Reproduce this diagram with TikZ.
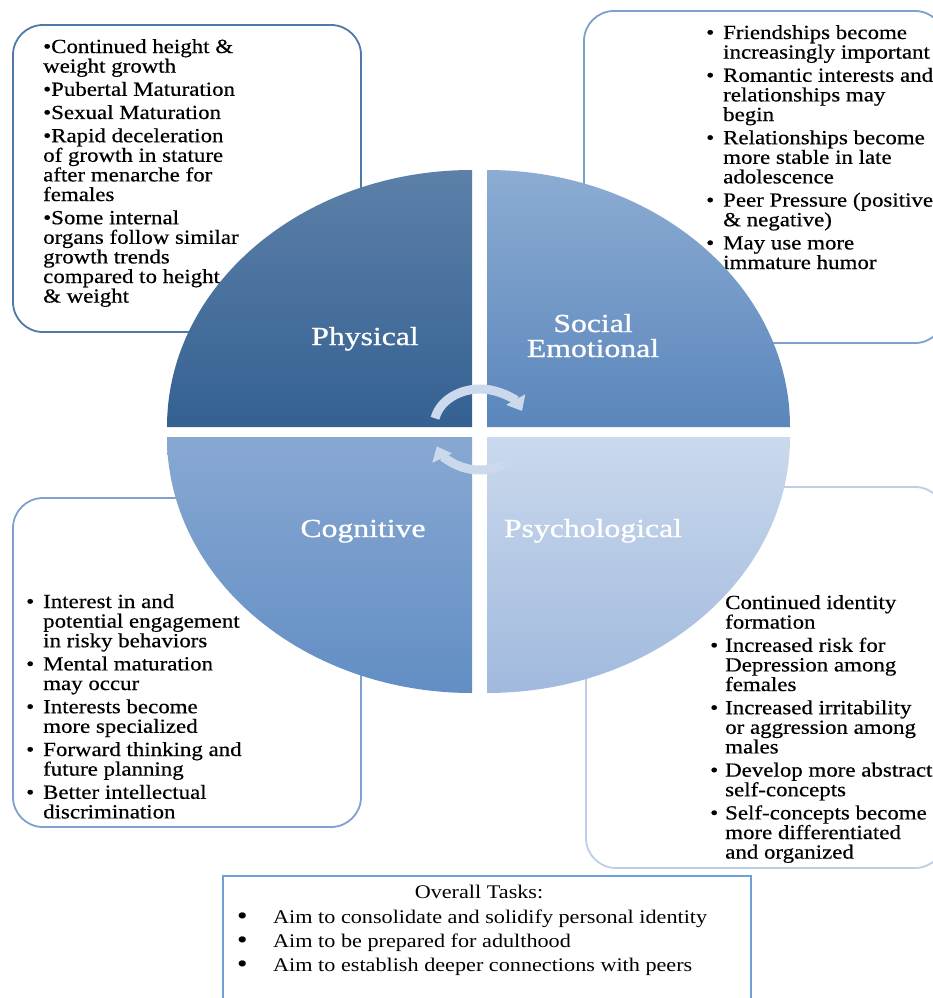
\documentclass[tikz,border=0pt]{standalone}
\usepackage{fontspec}
\setmainfont{Liberation Serif}[FakeStretch=1.145,FakeBold=0.5]
\newfontfamily\labelfont{Liberation Serif}[FakeStretch=1.22,FakeBold=0.9]
\newfontfamily\taskfont{Liberation Serif}[FakeStretch=1.15]
\usetikzlibrary{arrows.meta,fadings}
\definecolor{physTop}{RGB}{92,128,168}
\definecolor{physBot}{RGB}{52,97,146}
\definecolor{socTop}{RGB}{140,172,210}
\definecolor{socBot}{RGB}{90,134,188}
\definecolor{cogTop}{RGB}{136,168,210}
\definecolor{cogBot}{RGB}{98,142,196}
\definecolor{psyTop}{RGB}{202,217,237}
\definecolor{psyBot}{RGB}{160,185,221}
\definecolor{borderA}{RGB}{80,122,166}
\definecolor{borderB}{RGB}{125,160,205}
\definecolor{borderC}{RGB}{125,162,208}
\definecolor{borderD}{RGB}{190,205,232}
\definecolor{taskborder}{RGB}{110,160,214}
\definecolor{arrowcol}{RGB}{204,217,236}
\newlength\bulw
\newcommand\bul{\makebox[\bulw][l]{•}}
\newcommand\bigbul{\makebox[\bulw][l]{\hspace*{1pt}\raisebox{-1pt}{\fontsize{26}{24}\selectfont•}}}
\newcommand\ind{\hspace*{\bulw}}
\newcommand\gap{\\[3.6pt]}
\newcommand\bodyfont{\fontsize{20}{19.6}\selectfont\lineskiplimit=-100pt}
\tikzset{
  infobox/.style={rounded corners=30pt, line width=1.8pt, fill=white},
  bodytext/.style={inner sep=0pt, anchor=base west, text=black},
  quadlabel/.style={text=white, font=\labelfont\fontsize{26}{25}\selectfont, inner sep=0pt, anchor=base},
  cyclearrow/.style={draw=arrowcol, line width=9pt, line cap=butt},
  cyclehead/.style={-{Triangle[width=21pt,length=13pt]}}
}
\begin{document}
\begin{tikzpicture}[x=1pt,y=-1pt]
\useasboundingbox (0,0) rectangle (933,998);
\clip (0,0) rectangle (933,998);
\fill[white] (0,0) rectangle (933,998);

% text boxes
\draw[infobox, draw=borderA] (13,25) rectangle (361,332);
\draw[infobox, draw=borderB] (584,11) rectangle (945,343);
\draw[infobox, draw=borderC] (13,498) rectangle (361,827);
\draw[infobox, draw=borderD] (586,487) rectangle (945,868);

\node[bodytext] (physTxt) at (43,53) {\parbox[t]{500pt}{\bodyfont
•Continued height \&\\
weight growth\gap
•Pubertal Maturation\gap
•Sexual Maturation\gap
•Rapid deceleration\\
of growth in stature\\
after menarche for\\
females\gap
•Some internal\\
organs follow similar\\
growth trends\\
compared to height\\
\& weight}};

\node[bodytext] (socTxt) at (706,39) {\parbox[t]{500pt}{\bodyfont\setlength\bulw{17pt}%
\bul Friendships become\\
\ind increasingly important\gap
\bul Romantic interests and\\
\ind relationships may\\
\ind begin\gap
\bul Relationships become\\
\ind more stable in late\\
\ind adolescence\gap
\bul Peer Pressure (positive\\
\ind \& negative)\gap
\bul May use more\\
\ind immature humor}};

\node[bodytext] (cogTxt) at (26,608) {\parbox[t]{500pt}{\bodyfont\setlength\bulw{17pt}%
\bul Interest in and\\
\ind potential engagement\\
\ind in risky behaviors\gap
\bul Mental maturation\\
\ind may occur\gap
\bul Interests become\\
\ind more specialized\gap
\bul Forward thinking and\\
\ind future planning\gap
\bul Better intellectual\\
\ind discrimination}};

\node[bodytext] (psyTxt) at (710,609) {\parbox[t]{500pt}{\bodyfont\setlength\bulw{15pt}%
\ind Continued identity\\
\ind formation\gap
\bul Increased risk for\\
\ind Depression among\\
\ind females\gap
\bul Increased irritability\\
\ind or aggression among\\
\ind males\gap
\bul Develop more abstract\\
\ind self-concepts\gap
\bul Self-concepts become\\
\ind more differentiated\\
\ind and organized}};

% overall tasks box
\draw[draw=taskborder, line width=1.8pt, fill=white] (223,876) rectangle (751,1010);
\node[inner sep=0pt, anchor=base, font=\taskfont\fontsize{19.3}{24}\selectfont] (taskTitle) at (479,898) {Overall Tasks:};
\node[bodytext] (taskTxt) at (236,923) {\parbox[t]{600pt}{\taskfont\fontsize{19.3}{24.3}\selectfont\setlength\bulw{37pt}%
\bigbul Aim to consolidate and solidify personal identity\\
\bigbul Aim to be prepared for adulthood\\
\bigbul Aim to establish deeper connections with peers}};

% quadrants
\shade[top color=physTop, bottom color=physBot]
  (472,427) -- (167,427) arc[start angle=180, end angle=270, x radius=305, y radius=257] -- cycle;
\shade[top color=socTop, bottom color=socBot]
  (487,427) -- (487,170) arc[start angle=270, end angle=360, x radius=303, y radius=257] -- cycle;
\shade[top color=psyTop, bottom color=psyBot]
  (487,437) -- (790,437) arc[start angle=0, end angle=90, x radius=303, y radius=256] -- cycle;
\shade[top color=cogTop, bottom color=cogBot]
  (472,437) -- (472,693) arc[start angle=90, end angle=180, x radius=305, y radius=256] -- cycle;

% quadrant labels
\node[quadlabel] (physLbl) at (365,345) {Physical};
\node[quadlabel] (socLbl) at (593,332) {\parbox[t]{220pt}{\centering\labelfont\fontsize{26}{25}\selectfont Social\\Emotional}};
\node[quadlabel] (cogLbl) at (363,537) {Cognitive};
\node[quadlabel] (psyLbl) at (593,537) {Psychological};

% cycle arrows
\coordinate (cycTop) at (480,426);
\coordinate (cycBot) at (480,434);
\draw[cyclearrow, cyclehead] (cycTop) ++(192:46 and 37) arc[start angle=192, end angle=336, x radius=46, y radius=37];
\draw[cyclearrow, cyclehead] (cycBot) ++(60:46 and 36) arc[start angle=60, end angle=160, x radius=46, y radius=36];
\draw[cyclearrow, path fading=east] (cycBot) ++(20:46 and 36) arc[start angle=20, end angle=62, x radius=46, y radius=36];
\end{tikzpicture}
\end{document}
